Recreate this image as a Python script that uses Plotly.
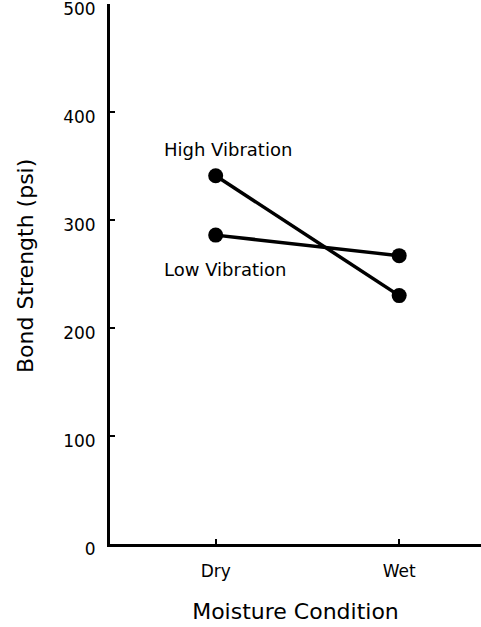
import plotly.graph_objects as go

conditions = ["Dry", "Wet"]
high_vibration = [341, 230]
low_vibration = [286, 267]
y_ticks = [0, 100, 200, 300, 400, 500]

FONT = "DejaVu Sans, Verdana, sans-serif"

fig = go.Figure()
for name, vals in [("High Vibration", high_vibration), ("Low Vibration", low_vibration)]:
    fig.add_trace(go.Scatter(
        x=[0, 1], y=vals, mode="lines+markers", name=name,
        line=dict(color="black", width=3.5),
        marker=dict(color="black", size=15),
        showlegend=False, cliponaxis=False,
    ))

fig.add_annotation(x=0, y=high_vibration[0], text="High Vibration", showarrow=False,
                   xref="x", yref="y", xanchor="left", yanchor="middle", borderpad=0,
                   xshift=-53, yshift=26, font=dict(size=18, color="black", family=FONT))
fig.add_annotation(x=0, y=low_vibration[0], text="Low Vibration", showarrow=False,
                   xref="x", yref="y", xanchor="left", yanchor="middle", borderpad=0,
                   xshift=-53, yshift=-34, font=dict(size=18, color="black", family=FONT))

# y-axis title placed as a rotated annotation for precise positioning
fig.add_annotation(x=0, y=0.5, xref="paper", yref="paper", text="Bond Strength (psi)",
                   showarrow=False, textangle=-90, xanchor="center", yanchor="middle",
                   xshift=-85, yshift=8, font=dict(size=22, color="black", family=FONT))

fig.update_layout(
    width=481, height=627,
    margin=dict(l=110, r=0, t=4, b=83, autoexpand=False),
    paper_bgcolor="white", plot_bgcolor="white",
    font=dict(family=FONT, color="black", size=17),
    xaxis=dict(
        range=[-0.576, 1.446], tickvals=[0, 1], ticktext=conditions,
        showgrid=False, zeroline=False, showline=True, linecolor="black", linewidth=3,
        ticks="inside", ticklen=5, tickwidth=2, tickcolor="black",
        title=dict(text="Moisture Condition", font=dict(size=22), standoff=24),
        tickfont=dict(size=17), ticklabelstandoff=10,
    ),
    yaxis=dict(
        range=[0, 500], tickvals=y_ticks,
        showgrid=False, zeroline=False, showline=True, linecolor="black", linewidth=3,
        ticks="inside", ticklen=5, tickwidth=2, tickcolor="black",
        tickfont=dict(size=17), ticklabelstandoff=8, ticklabeloverflow="allow",
        ticklabelshift=5,
    ),
)

fig.write_html("out.html", config={"displayModeBar": False},
               post_script=("document.body.style.margin='0';"
                            "document.body.style.overflow='hidden';"
                            "document.documentElement.style.overflow='hidden';"))
